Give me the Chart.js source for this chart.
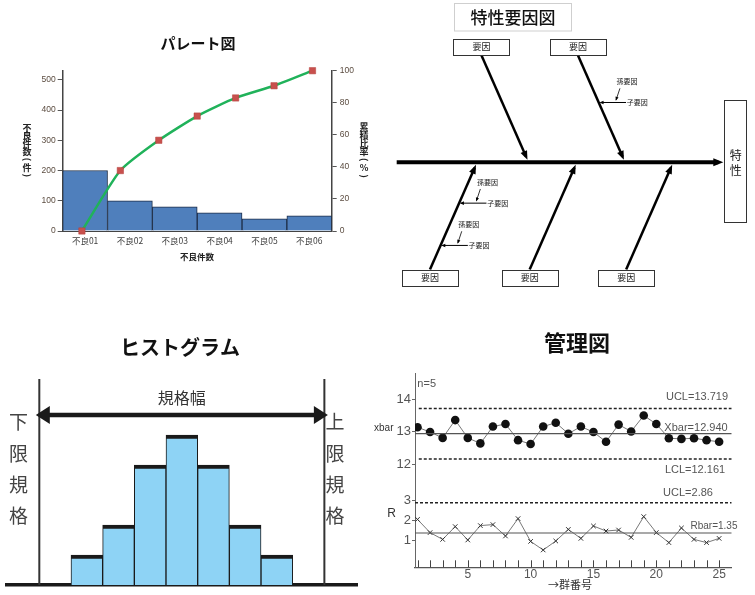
<!DOCTYPE html>
<html>
<head>
<meta charset="utf-8">
<script src="https://cdn.jsdelivr.net/npm/chart.js@4.4.1/dist/chart.umd.min.js"></script>
<style>
  html, body { margin: 0; padding: 0; background: #fff; }
  #wrap { position: relative; width: 755px; height: 595px; overflow: hidden; }
  #wrap canvas { position: absolute; left: 0; top: 0; width: 755px; height: 595px; }
</style>
</head>
<body>
<div id="wrap">
  <canvas id="pareto" width="755" height="595"></canvas>
  <canvas id="fish" width="755" height="595"></canvas>
  <canvas id="hist" width="755" height="595"></canvas>
  <canvas id="xbar" width="755" height="595"></canvas>
  <canvas id="range" width="755" height="595"></canvas>
</div>
<script>
// ---- パレート図 ----
const paretoLabels = ['不良01', '不良02', '不良03', '不良04', '不良05', '不良06'];
const defectCounts = [200, 100, 80, 60, 40, 50];
const cumulativePct = [0, 37.7, 56.6, 71.7, 83.0, 90.6, 100];
const countTicks = [0, 100, 200, 300, 400, 500];
const pctTicks = [0, 20, 40, 60, 80, 100];

// ---- 特性要因図 ----
const effectLabel = '特性';
const mainCauses = ['要因', '要因', '要因', '要因', '要因'];
const causeOnSpine = [4.1, 7.1, 2.5, 5.6, 8.6];
const causeSide = [1, 1, -1, -1, -1];
const subCauses = [
  { cause: 1, h: 1.86 },
  { cause: 2, h: 1.27 },
  { cause: 2, h: 2.585 }
];

// ---- ヒストグラム ----
const histBins = [1, 2, 3, 4, 5, 6, 7];
const histCounts = [1, 2, 4, 5, 4, 2, 1];
const lowerSpec = -0.5;
const upperSpec = 8.5;

// ---- 管理図 ----
const groupNumbers = [1, 2, 3, 4, 5, 6, 7, 8, 9, 10, 11, 12, 13, 14, 15, 16, 17, 18, 19, 20, 21, 22, 23, 24, 25];
const xbarValues = [13.14, 12.99, 12.81, 13.36, 12.81, 12.64, 13.16, 13.24, 12.74, 12.62, 13.16, 13.28, 12.94,
                    13.16, 12.99, 12.69, 13.22, 13.01, 13.50, 13.24, 12.80, 12.78, 12.80, 12.74, 12.69];
const rangeValues = [2.03, 1.37, 1.03, 1.67, 1.00, 1.72, 1.77, 1.20, 2.07, 0.93, 0.50, 0.95, 1.53,
                     1.08, 1.70, 1.45, 1.50, 1.13, 2.17, 1.37, 0.87, 1.60, 1.03, 0.87, 1.08];
const xbarCenter = 12.940, xbarUCL = 13.719, xbarLCL = 12.161;
const rCenter = 1.35, rUCL = 2.86;
const xbarTicks = [12, 13, 14];
const rTicks = [1, 2, 3];
const groupTicks = [5, 10, 15, 20, 25];

const JP = "'Noto Sans CJK JP', 'Noto Sans', sans-serif";
const NUM = "'Liberation Sans', Arial, sans-serif";

Chart.defaults.animation = false;
Chart.defaults.responsive = false;
Chart.defaults.layout.autoPadding = false;
Chart.defaults.plugins.legend.display = false;
Chart.defaults.plugins.tooltip.enabled = false;

// free text, either in page pixels or in data units (xs / ys = scale id)
const textPlugin = {
  id: 'notes',
  afterDraw(chart, args, opts) {
    const ctx = chart.ctx;
    for (const it of opts.items || []) {
      let x = it.xs ? chart.scales[it.xs].getPixelForValue(it.x) : it.x;
      let y = it.ys ? chart.scales[it.ys].getPixelForValue(it.y) : it.y;
      ctx.save();
      ctx.font = it.f;
      ctx.fillStyle = it.c || '#000';
      ctx.textAlign = it.a || 'center';
      ctx.textBaseline = 'middle';
      if (it.v) {
        [...it.t].forEach((ch, k) => {
          const cy = y + k * it.v;
          if ('()（）'.includes(ch)) {
            ctx.save(); ctx.translate(x, cy); ctx.rotate(Math.PI / 2);
            ctx.fillText(ch, 0, 0); ctx.restore();
          } else {
            ctx.fillText(ch, x, cy);
          }
        });
      } else {
        ctx.fillText(it.t, x, y);
      }
      ctx.restore();
    }
  }
};

// arrow heads at the end of line datasets that ask for one
const arrowPlugin = {
  id: 'arrows',
  afterDatasetsDraw(chart) {
    const ctx = chart.ctx;
    chart.data.datasets.forEach((ds, i) => {
      if (!ds.arrowSize) return;
      const pts = chart.getDatasetMeta(i).data;
      if (pts.length < 2) return;
      const L = ds.arrowSize, W = ds.arrowWidth || L * 0.4;
      const ext = (ds.borderWidth / 2) * L / W;
      const head = (a, b) => {
        const ang = Math.atan2(b.y - a.y, b.x - a.x);
        const c = Math.cos(ang), s = Math.sin(ang);
        const tx = b.x + c * ext, ty = b.y + s * ext;
        ctx.beginPath();
        ctx.moveTo(tx, ty);
        ctx.lineTo(tx - L * c + W * s, ty - L * s - W * c);
        ctx.lineTo(tx - L * c - W * s, ty - L * s + W * c);
        ctx.closePath();
        ctx.fill();
      };
      ctx.save();
      ctx.fillStyle = ds.borderColor;
      head(pts[pts.length - 2], pts[pts.length - 1]);
      if (ds.arrowBoth) head(pts[1], pts[0]);
      ctx.restore();
    });
  }
};

Chart.register(textPlugin, arrowPlugin);

const fixTicks = list => scale => { scale.ticks = list.map(v => ({ value: v })); };

// ================= パレート図 =================
new Chart(document.getElementById('pareto'), {
  type: 'bar',
  data: {
    labels: paretoLabels,
    datasets: [
      {
        type: 'line',
        label: '累積比率',
        data: cumulativePct.map((v, i) => ({ x: i, y: v })),
        xAxisID: 'xCum',
        yAxisID: 'yPct',
        borderColor: '#20B25A',
        borderWidth: 2.5,
        tension: 0.2,
        pointStyle: 'rect',
        pointRadius: 4.5,
        pointBackgroundColor: '#C8504D',
        pointBorderColor: '#B5403D',
        pointBorderWidth: 0.5,
        clip: false,
        order: 0
      },
      {
        type: 'bar',
        label: '不良件数',
        data: defectCounts,
        xAxisID: 'x',
        yAxisID: 'yCnt',
        backgroundColor: '#4F7FBC',
        borderColor: '#1E2E48',
        borderWidth: 1,
        grouped: false,
        categoryPercentage: 1,
        barPercentage: 1,
        order: 1
      }
    ]
  },
  options: {
    layout: { padding: { left: 22.7, right: 383.3, top: 70.7, bottom: 324 } },
    scales: {
      x: {
        type: 'category',
        offset: true,
        grid: { display: false, drawTicks: false },
        border: { color: '#444', width: 1 },
        ticks: { color: '#404040', font: { family: JP, size: 8.5 }, padding: 5 },
        afterFit(s) { s.height = 40; }
      },
      xCum: { type: 'linear', display: false, min: 0, max: 6 },
      yCnt: {
        position: 'left',
        min: 0,
        max: 530,
        afterBuildTicks: fixTicks(countTicks),
        grid: { drawOnChartArea: false, tickLength: 5, color: '#555' },
        border: { color: '#444', width: 1.5 },
        ticks: { color: '#5b4c40', font: { family: NUM, size: 8.5 }, padding: 2 },
        afterFit(s) { s.width = 40; }
      },
      yPct: {
        position: 'right',
        min: 0,
        max: 100,
        afterBuildTicks: fixTicks(pctTicks),
        grid: { drawOnChartArea: false, tickLength: 5, color: '#555' },
        border: { color: '#444', width: 1.5 },
        ticks: { color: '#5b4c40', font: { family: NUM, size: 8.5 }, padding: 3 },
        afterFit(s) { s.width = 40; }
      }
    },
    plugins: {
      notes: {
        items: [
          { t: 'パレート図', x: 198, y: 43, f: `bold 15px ${JP}`, c: '#111' },
          { t: '不良件数', x: 197, y: 257, f: `bold 8.5px ${JP}`, c: '#222' },
          { t: '不良件数(件)', x: 27, y: 127.5, v: 8, f: `bold 9px ${JP}`, c: '#222' },
          { t: '累積比率(%)', x: 364, y: 127, v: 8.2, f: `bold 9px ${JP}`, c: '#222' }
        ]
      }
    }
  }
});

// ================= 特性要因図 =================
const spineLength = 10;
const boneRise = 3.33;
const boneSlope = 0.44;
const boneTipGap = 0.17;
const subLength = 0.85;

const fishSets = [];
fishSets.push({ data: [{ x: 0, y: 0 }, { x: spineLength, y: 0 }], borderWidth: 4, arrowSize: 10, arrowWidth: 4 });
causeOnSpine.forEach((at, i) => {
  const s = causeSide[i];
  fishSets.push({
    data: [{ x: at - boneSlope * boneRise, y: s * boneRise }, { x: at - boneSlope * boneTipGap, y: s * boneTipGap }],
    borderWidth: 2.5, arrowSize: 9, arrowWidth: 3.5
  });
});
const fishNotes = [];
subCauses.forEach(sc => {
  const at = causeOnSpine[sc.cause], s = causeSide[sc.cause];
  const bx = at - boneSlope * sc.h, y = s * sc.h;
  fishSets.push({ data: [{ x: bx + subLength, y }, { x: bx + 0.06, y }], borderWidth: 1, arrowSize: 4, arrowWidth: 1.8 });
  fishSets.push({ data: [{ x: bx + 0.66, y: y + 0.44 }, { x: bx + 0.54, y: y + 0.08 }], borderWidth: 0.8, arrowSize: 4, arrowWidth: 1.6 });
  fishNotes.push({ t: '子要因', x: bx + subLength + 0.35, y, xs: 'x', ys: 'y', f: `7px ${JP}`, c: '#222' });
  fishNotes.push({ t: '孫要因', x: bx + 0.88, y: y + 0.66, xs: 'x', ys: 'y', f: `7px ${JP}`, c: '#222' });
});
fishSets.forEach(d => Object.assign(d, { borderColor: '#000', pointRadius: 0, showLine: true, clip: false }));

fishNotes.push({ t: '特性要因図', x: 513, y: 17.5, f: `500 17px ${JP}`, c: '#111' });

const fishBoxes = {
  id: 'fishBoxes',
  afterDraw(chart) {
    const ctx = chart.ctx, xs = chart.scales.x, ys = chart.scales.y;
    ctx.save();
    ctx.strokeStyle = '#cfcfcf';
    ctx.lineWidth = 1;
    ctx.strokeRect(454.5, 3.5, 117, 27.5);
    ctx.textAlign = 'center';
    ctx.textBaseline = 'middle';
    mainCauses.forEach((label, i) => {
      const s = causeSide[i];
      const px = xs.getPixelForValue(causeOnSpine[i] - boneSlope * boneRise);
      const py = ys.getPixelForValue(s * boneRise);
      const cy = py - s * 8.5;
      ctx.fillStyle = '#fff';
      ctx.fillRect(px - 28, cy - 8, 56, 16);
      ctx.strokeStyle = '#333';
      ctx.strokeRect(Math.round(px - 28) + 0.5, Math.round(cy - 8) + 0.5, 56, 16);
      ctx.fillStyle = '#222';
      ctx.font = `9px ${JP}`;
      ctx.fillText(label, px, cy);
    });
    const ex = xs.getPixelForValue(spineLength), ey = ys.getPixelForValue(0);
    ctx.strokeStyle = '#333';
    ctx.strokeRect(Math.round(ex + 6) + 0.5, Math.round(ey - 62) + 0.5, 22, 122);
    ctx.fillStyle = '#222';
    ctx.font = `12px ${JP}`;
    [...effectLabel].forEach((ch, k) => ctx.fillText(ch, ex + 17.5, ey - 7.3 + k * 15.7));
    ctx.restore();
  }
};

new Chart(document.getElementById('fish'), {
  type: 'scatter',
  data: { datasets: fishSets },
  options: {
    layout: { padding: { left: 380, right: 0, top: 0, bottom: 295 } },
    scales: {
      x: { type: 'linear', display: false, min: -0.519, max: 11.141 },
      y: { type: 'linear', display: false, min: -4.282, max: 5.047 }
    },
    plugins: { notes: { items: fishNotes } }
  },
  plugins: [fishBoxes]
});

// ================= ヒストグラム =================
const specTop = 6.87;
const widthLevel = 5.67;
new Chart(document.getElementById('hist'), {
  type: 'bar',
  data: {
    datasets: [
      {
        type: 'bar',
        data: histBins.map((b, i) => ({ x: b, y: histCounts[i] })),
        backgroundColor: '#8ED3F5',
        borderColor: '#1a1a1a',
        borderWidth: { top: 4, left: 1, right: 1, bottom: 0 },
        categoryPercentage: 1,
        barPercentage: 1
      },
      { type: 'line', data: [{ x: lowerSpec, y: 0 }, { x: lowerSpec, y: specTop }], borderColor: '#333', borderWidth: 2, pointRadius: 0 },
      { type: 'line', data: [{ x: upperSpec, y: 0 }, { x: upperSpec, y: specTop }], borderColor: '#333', borderWidth: 2, pointRadius: 0 },
      {
        type: 'line',
        data: [{ x: lowerSpec, y: widthLevel }, { x: upperSpec, y: widthLevel }],
        borderColor: '#1a1a1a', borderWidth: 4.5, pointRadius: 0,
        arrowSize: 14, arrowWidth: 9, arrowBoth: true
      }
    ]
  },
  options: {
    layout: { padding: { left: 7, right: 398, top: 379, bottom: 0 } },
    scales: {
      x: {
        type: 'linear', min: -1.52, max: 9.53, offset: false,
        grid: { display: false, offset: false, drawTicks: false },
        ticks: { display: false },
        border: { color: '#1a1a1a', width: 3.5 },
        afterFit(s) { s.height = 10; }
      },
      y: { display: false, min: 0, max: specTop }
    },
    plugins: {
      notes: {
        items: [
          { t: 'ヒストグラム', x: 180, y: 347, f: `bold 20px ${JP}`, c: '#111' },
          { t: '規格幅', x: 4, y: 6.23, xs: 'x', ys: 'y', f: `16px ${JP}`, c: '#333' },
          { t: '下限規格', x: 18.5, y: 422, v: 31.3, f: `19px ${JP}`, c: '#444' },
          { t: '上限規格', x: 335, y: 422, v: 31.3, f: `19px ${JP}`, c: '#444' }
        ]
      }
    }
  }
});

// ================= 管理図 =================
const lineFrom = 0.8, limitFrom = 1.1, lineTo = 26;
const ctlX = { type: 'linear', min: 0.8, max: 26 };
const levelLine = (y, from, dashed) => ({
  type: 'line',
  data: [{ x: from, y }, { x: lineTo, y }],
  borderColor: dashed ? '#222' : '#555',
  borderWidth: dashed ? 1.5 : 1.2,
  borderDash: dashed ? [3, 2] : [],
  pointRadius: 0
});
const ctlY = (lo, hi, list) => ({
  position: 'left', min: lo, max: hi,
  afterBuildTicks: fixTicks(list),
  grid: { drawOnChartArea: false, tickLength: 3, color: '#666' },
  border: { color: '#666', width: 1 },
  ticks: { color: '#555', font: { family: NUM, size: 13 }, padding: 1 },
  afterFit(s) { s.width = 30; }
});

new Chart(document.getElementById('xbar'), {
  type: 'line',
  data: {
    datasets: [
      levelLine(xbarUCL, limitFrom, true),
      levelLine(xbarLCL, limitFrom, true),
      levelLine(xbarCenter, lineFrom, false),
      {
        data: groupNumbers.map((n, i) => ({ x: n, y: xbarValues[i] })),
        borderColor: '#555', borderWidth: 0.8,
        pointRadius: 4.3, pointBackgroundColor: '#111', pointBorderWidth: 0
      }
    ]
  },
  options: {
    layout: { padding: { left: 385, right: 23.3, top: 373, bottom: 115 } },
    scales: {
      x: Object.assign({ display: false }, ctlX),
      y: ctlY(11.511, 14.813, xbarTicks)
    },
    plugins: {
      notes: {
        items: [
          { t: '管理図', x: 577, y: 343, f: `bold 22px ${JP}`, c: '#111' },
          { t: 'n=5', x: 426.7, y: 383.5, f: `11px ${NUM}`, c: '#555' },
          { t: 'UCL=13.719', x: 697, y: 396.7, f: `11px ${NUM}`, c: '#555' },
          { t: 'Xbar=12.940', x: 696, y: 428.3, f: `11px ${NUM}`, c: '#555' },
          { t: 'LCL=12.161', x: 695, y: 470, f: `11px ${NUM}`, c: '#555' },
          { t: 'xbar', x: 393.5, y: 428.3, a: 'right', f: `10px ${NUM}`, c: '#333' }
        ]
      }
    }
  }
});

const innerTicks = {
  id: 'innerTicks',
  afterDraw(chart) {
    const ctx = chart.ctx, xs = chart.scales.x, yb = chart.chartArea.bottom;
    ctx.save();
    ctx.strokeStyle = '#444';
    ctx.lineWidth = 1;
    groupNumbers.forEach(n => {
      const px = Math.round(xs.getPixelForValue(n)) + 0.5;
      ctx.beginPath();
      ctx.moveTo(px, yb);
      ctx.lineTo(px, yb - 7);
      ctx.stroke();
    });
    ctx.restore();
  }
};

new Chart(document.getElementById('range'), {
  type: 'line',
  data: {
    datasets: [
      levelLine(rUCL, lineFrom, true),
      levelLine(rCenter, lineFrom, false),
      {
        data: groupNumbers.map((n, i) => ({ x: n, y: rangeValues[i] })),
        borderColor: '#555', borderWidth: 0.8,
        pointStyle: 'crossRot', pointRadius: 3.2, pointBorderColor: '#333', pointBorderWidth: 1
      }
    ]
  },
  options: {
    layout: { padding: { left: 385, right: 23.3, top: 480, bottom: 7.7 } },
    scales: {
      x: Object.assign({
        afterBuildTicks: fixTicks(groupTicks),
        grid: { display: false, drawTicks: false },
        border: { color: '#555', width: 1.2 },
        ticks: { color: '#555', font: { family: NUM, size: 12 }, padding: 0 },
        afterFit(s) { s.height = 20; }
      }, ctlX),
      y: ctlY(-0.365, 4, rTicks)
    },
    plugins: {
      notes: {
        items: [
          { t: 'UCL=2.86', x: 688, y: 493.3, f: `11px ${NUM}`, c: '#555' },
          { t: 'Rbar=1.35', x: 714, y: 526.7, f: `10px ${NUM}`, c: '#555' },
          { t: 'R', x: 391.7, y: 513.3, f: `12px ${NUM}`, c: '#333' },
          { t: '→群番号', x: 570, y: 585, f: `11px ${JP}`, c: '#333' }
        ]
      }
    }
  },
  plugins: [innerTicks]
});
</script>
</body>
</html>
